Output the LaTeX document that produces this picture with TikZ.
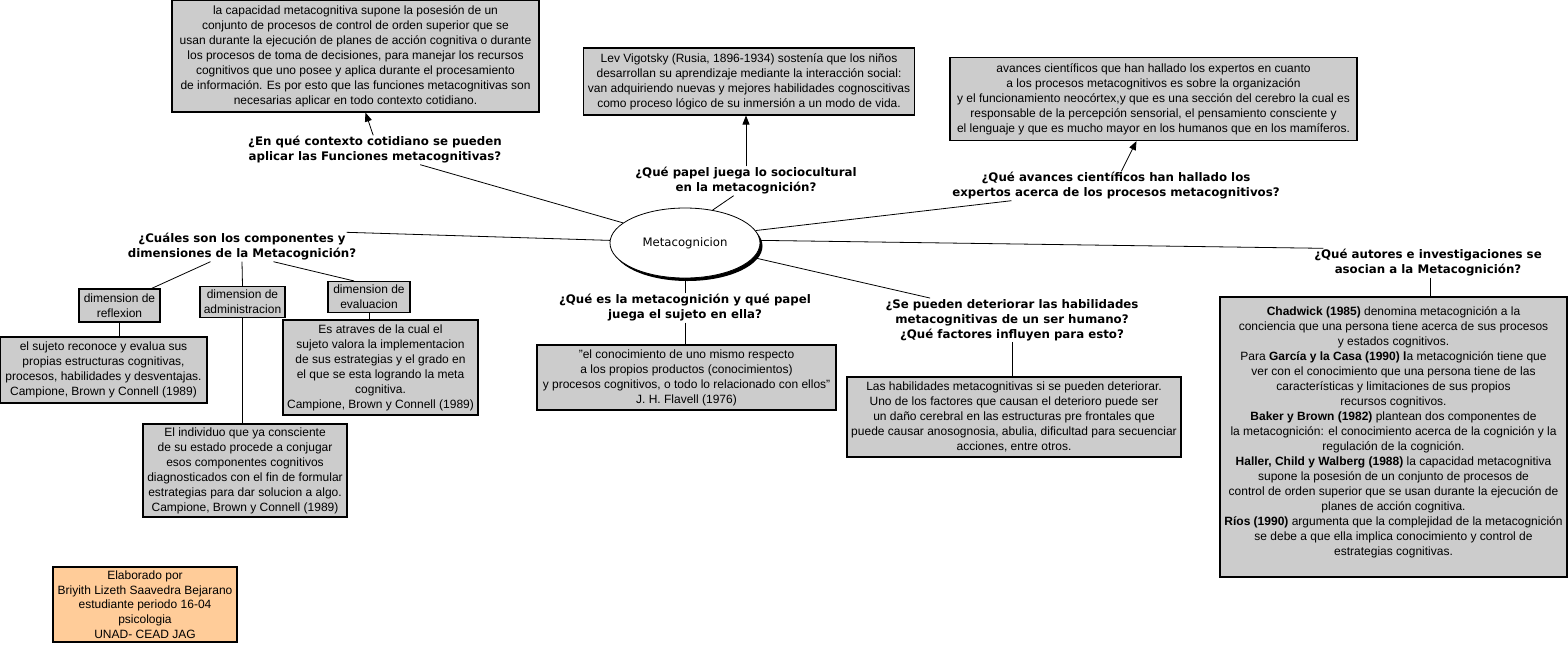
\documentclass[tikz,border=0pt]{standalone}
\usepackage{fontspec}
\setmainfont{Liberation Sans}
\newfontfamily\qfont{DejaVu Sans}
\usepackage{xcolor}
\usepackage{tikz}
\usetikzlibrary{shapes.geometric, arrows.meta, shadows}
\definecolor{boxgray}{RGB}{204,204,204}
\definecolor{creditorange}{RGB}{255,204,153}
\tikzset{
    map/.style={x=1pt, y=-1pt},
    map box/.style={draw, fill=boxgray, line width=1.1pt, align=center,
        inner sep=2pt, font={\fontsize{12}{15}\selectfont}},
    map question/.style={align=center, inner sep=1pt,
        font={\qfont\bfseries\fontsize{11.8}{15}\selectfont}},
    map link/.style={line width=0.8pt},
    map arrow/.style={map link, -{Triangle[length=9pt,width=7pt]}},
}

\begin{document}
\begin{tikzpicture}[
        map,
        hub/.style={ellipse, draw, fill=white, line width=0.8pt,
            minimum width=150pt, minimum height=70pt, inner sep=0pt,
            font={\qfont\fontsize{11.7}{14}\selectfont},
            drop shadow={shadow xshift=2.5pt, shadow yshift=-3pt,
                fill=black, opacity=1}},
        dimbox/.style={map box, inner sep=1pt, minimum height=31pt},
        creditbox/.style={map box, inner sep=1pt, fill=creditorange,
            minimum width=184pt, minimum height=75pt,
            font={\fontsize{12}{14.6}\selectfont}}
    ]
        \useasboundingbox (0,0) rectangle (1568,646);

        \node[hub] (meta) at (685,243) {Metacognicion};

        \node[map box, minimum width=367pt, minimum height=112pt] (ctx) at (355.5,56)
            {la capacidad metacognitiva supone la posesión de un\\
             conjunto de procesos de control de orden superior que se\\
             usan durante la ejecución de planes de acción cognitiva o durante\\
             los procesos de toma de decisiones, para manejar los recursos\\
             cognitivos que uno posee y aplica durante el procesamiento\\
             de información. Es por esto que las funciones metacognitivas son\\
             necesarias aplicar en todo contexto cotidiano.};
        \node[map question] (q1) at (375,150)
            {¿En qué contexto cotidiano se pueden\\aplicar las Funciones metacognitivas?};

        \node[map box, minimum width=331pt, minimum height=67pt] (socio) at (749,81.5)
            {Lev Vigotsky (Rusia, 1896-1934) sostenía que los niños\\
             desarrollan su aprendizaje mediante la interacción social:\\
             van adquiriendo nuevas y mejores habilidades cognoscitivas\\
             como proceso lógico de su inmersión a un modo de vida.};
        \node[map question] (q2) at (746,181)
            {¿Qué papel juega lo sociocultural\\en la metacognición?};

        \node[map box, minimum width=407pt, minimum height=83pt] (avances) at (1153.5,99)
            {avances científicos que han hallado los expertos en cuanto\\
             a los procesos metacognitivos es sobre la organización\\
             y el funcionamiento neocórtex,y que es una sección del cerebro la cual es\\
             responsable de la percepción sensorial, el pensamiento consciente y\\
             el lenguaje y que es mucho mayor en los humanos que en los mamíferos.};
        \node[map question] (q3) at (1116,186)
            {¿Qué avances científicos han hallado los\\expertos acerca de los procesos metacognitivos?};

        \node[map question] (q4) at (242,247)
            {¿Cuáles son los componentes y\\dimensiones de la Metacognición?};
        \node[dimbox, minimum width=81pt, minimum height=33pt] (dref) at (119.5,305.5)
            {dimension de\\reflexion};
        \node[dimbox, minimum width=85pt] (dadm) at (242.5,302)
            {dimension de\\administracion};
        \node[dimbox, minimum width=82pt] (deval) at (369,297)
            {dimension de\\evaluacion};
        \node[map box, minimum width=207pt, minimum height=66pt] (aref) at (103.5,370)
            {el sujeto reconoce y evalua sus\\
             propias estructuras cognitivas,\\
             procesos, habilidades y desventajas.\\
             Campione, Brown y Connell (1989)};
        \node[map box, minimum width=195pt, minimum height=95pt] (aeval) at (380.5,367.5)
            {Es atraves de la cual el\\
             sujeto valora la implementacion\\
             de sus estrategias y el grado en\\
             el que se esta logrando la meta\\
             cognitiva.\\
             Campione, Brown y Connell (1989)};
        \node[map box, minimum width=204pt, minimum height=93pt] (aadm) at (245,470.5)
            {El individuo que ya consciente\\
             de su estado procede a conjugar\\
             esos componentes cognitivos\\
             diagnosticados con el fin de formular\\
             estrategias para dar solucion a algo.\\
             Campione, Brown y Connell (1989)};

        \node[map question] (q5) at (685,308)
            {¿Qué es la metacognición y qué papel\\juega el sujeto en ella?};
        \node[map box, minimum width=299pt, minimum height=65pt] (flavell) at (686.5,377.5)
            {"el conocimiento de uno mismo respecto\\
             a los propios productos (conocimientos)\\
             y procesos cognitivos, o todo lo relacionado con ellos"\\
             J. H. Flavell (1976)};

        \node[map question] (q6) at (1012,320)
            {¿Se pueden deteriorar las habilidades\\metacognitivas de un ser humano?\\
             ¿Qué factores influyen para esto?};
        \node[map box, minimum width=334pt, minimum height=80pt] (deterioro) at (1014,417)
            {Las habilidades metacognitivas si se pueden deteriorar.\\
             Uno de los factores que causan el deterioro puede ser\\
             un daño cerebral en las estructuras pre frontales que\\
             puede causar anosognosia, abulia, dificultad para secuenciar\\
             acciones, entre otros.};

        \node[map question] (q7) at (1428,263)
            {¿Qué autores e investigaciones se\\asocian a la Metacognición?};
        \node[map box, minimum width=347pt, minimum height=280pt] (autores) at (1393.5,437)
            {\textbf{Chadwick (1985)} denomina metacognición a la\\
             conciencia que una persona tiene acerca de sus procesos\\
             y estados cognitivos.\\
             Para \textbf{García y la Casa (1990) l}a metacognición tiene que\\
             ver con el conocimiento que una persona tiene de las\\
             características y limitaciones de sus propios\\
             recursos cognitivos.\\
             \textbf{Baker y Brown (1982)} plantean dos componentes de\\
             la metacognición: el conocimiento acerca de la cognición y la\\
             regulación de la cognición.\\
             \textbf{Haller, Child y Walberg (1988)} la capacidad metacognitiva\\
             supone la posesión de un conjunto de procesos de\\
             control de orden superior que se usan durante la ejecución de\\
             planes de acción cognitiva.\\
             \textbf{Ríos (1990)} argumenta que la complejidad de la metacognición\\
             se debe a que ella implica conocimiento y control de\\
             estrategias cognitivas.\\[-4pt] \mbox{}};

        \node[creditbox] (credit) at (145,604.5)
            {Elaborado por\\
             Briyith Lizeth Saavedra Bejarano\\
             estudiante periodo 16-04\\
             psicologia\\
             UNAD- CEAD JAG};

        \draw[map link] (meta.162) -- (q1.-18);
        \draw[map link] (meta.50) -- (q2.-130);
        \draw[map link] (meta.10) -- (q3.-172);
        \draw[map link] (meta.178) -- (q4.8);
        \draw[map link] (meta.2) -- (q7.172);
        \draw[map link] (meta.-12) -- (q6.165);
        \draw[map link] (meta.south) -- (q5.north);

        \draw[map arrow] (q1.97) -- (ctx.-80);
        \draw[map arrow] (q2.north) -- (q2.north |- socio.south);
        \draw[map arrow] (q3.70) -- (avances.-112);

        \draw[map link] (q4.-155) -- (dref.28);
        \draw[map link] (q4.south) -- (dadm.north);
        \draw[map link] (q4.-25) -- (deval.133);
        \draw[map link] (dref.south) -- (dref.south |- aref.north);
        \draw[map link] (dadm.south) -- (dadm.south |- aadm.north);
        \draw[map link] (deval.south) -- (deval.south |- aeval.north);

        \draw[map link] (q5.south) -- (q5.south |- flavell.north);
        \draw[map link] (q6.south) -- (q6.south |- deterioro.north);
        \draw[map link] (q7.-80) -- (q7.-80 |- autores.north);
    \end{tikzpicture}
\end{document}
